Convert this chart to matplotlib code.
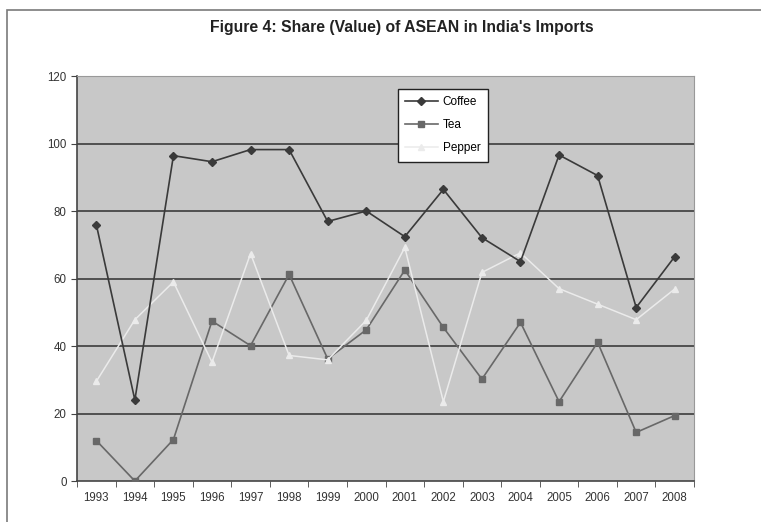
import matplotlib
matplotlib.use("Agg")
import matplotlib.pyplot as plt
from matplotlib.patches import Rectangle
import numpy as np

plt.rcParams["font.family"] = ["Liberation Sans", "DejaVu Sans"]

years = ["1993", "1994", "1995", "1996", "1997", "1998", "1999", "2000",
         "2001", "2002", "2003", "2004", "2005", "2006", "2007", "2008"]
coffee = [76, 24, 96.4, 94.6, 98.2, 98.2, 76.9, 80, 72.4, 86.4, 72.1, 65,
          96.6, 90.5, 51.4, 66.5]
tea = [12, 0, 12.3, 47.4, 40.1, 61.2, 36.2, 44.8, 62.5, 45.5, 30.2, 47,
       23.5, 41.1, 14.4, 19.4]
pepper = [29.5, 47.8, 59, 35.2, 67.4, 37.2, 35.9, 47.6, 69.2, 23.5, 61.8,
          67.6, 57, 52.4, 47.8, 56.9]

fig = plt.figure(figsize=(7.61, 5.22), dpi=100)
ax = fig.add_axes([0.1012, 0.0785, 0.8108, 0.7759])
ax.set_facecolor("#c8c8c8")

# outer frame of the figure (runs off the right and bottom edges)
fig.patches.append(Rectangle((0.009, -0.1), 1.2, 1.081, transform=fig.transFigure,
                             fill=False, edgecolor="#7a7a7a", lw=1.2))

x = np.arange(len(years))
ax.plot(x, coffee, color="#3a3a3a", lw=1.2, marker="D", ms=4.5, label="Coffee", zorder=4)
ax.plot(x, tea, color="#686868", lw=1.2, marker="s", ms=5, label="Tea", zorder=3)
ax.plot(x, pepper, color="#ebebeb", lw=1.1, marker="^", ms=5, label="Pepper", zorder=3)

ax.set_ylim(0, 120)
ax.set_xlim(-0.5, len(years) - 0.5)
ax.set_yticks(range(0, 121, 20))
for yv in range(20, 121, 20):
    ax.axhline(yv, color="#3c3c3c", lw=1.2, zorder=1)

ax.set_xticks(x)
ax.set_xticklabels(years)
ax.set_xticks(np.arange(-0.5, len(years), 1), minor=True)
ax.tick_params(axis="x", which="major", length=0, labelsize=8.3, colors="#333333", pad=8)
ax.tick_params(axis="x", which="minor", length=4, direction="out", color="#444444")
ax.tick_params(axis="y", length=4, direction="out", labelsize=8.3, colors="#444444",
               labelcolor="#333333")

for side in ["top", "right"]:
    ax.spines[side].set_color("#999999")
for side in ["left", "bottom"]:
    ax.spines[side].set_color("#444444")
    ax.spines[side].set_linewidth(1.2)

leg = ax.legend(loc="upper left", bbox_to_anchor=(0.52, 0.968), fontsize=8.5,
                frameon=True, fancybox=False, edgecolor="#222222", borderaxespad=0,
                framealpha=1, borderpad=0.6, labelspacing=0.95, handlelength=2.8,
                handletextpad=0.4)
leg.get_frame().set_facecolor("white")
leg.get_frame().set_linewidth(1.0)

fig.text(0.528, 0.948, "Figure 4: Share (Value) of ASEAN in India's Imports",
         ha="center", va="center", fontsize=11.3, fontweight="bold", color="#222222")

fig.savefig("out.png", dpi=100)
